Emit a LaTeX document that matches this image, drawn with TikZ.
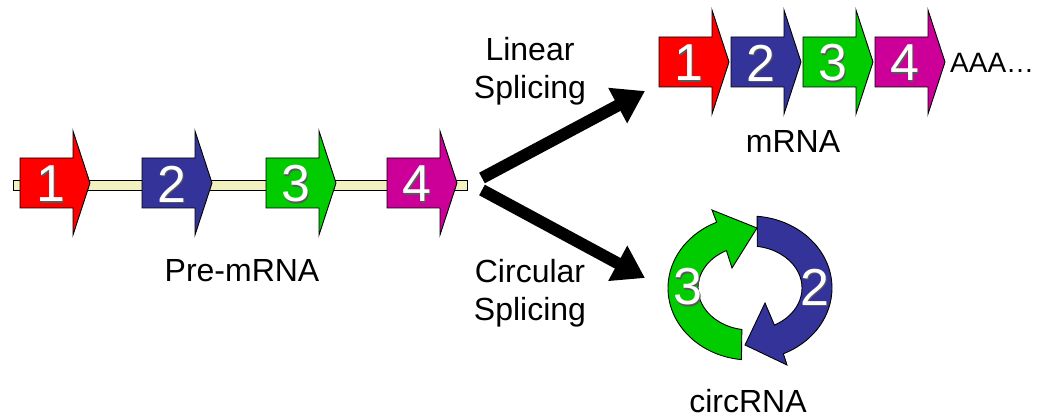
\documentclass[tikz,border=0pt]{standalone}
\usepackage{fontspec}
\setmainfont{Liberation Sans}
\usetikzlibrary{arrows.meta}
\definecolor{exred}{RGB}{255,0,0}
\definecolor{exblue}{RGB}{51,51,153}
\definecolor{exgreen}{RGB}{0,204,0}
\definecolor{exmag}{RGB}{204,0,153}
\definecolor{intron}{RGB}{242,242,192}
\newcommand\drawexon[3]{% #1 left x, #2 centre y, #3 colour
  \filldraw[fill=#3, exonline] (#1,#2-25) -- ++(53,0) -- ++(0,-27) -- ++(17,52) -- ++(-17,52) -- ++(0,-27) -- ++(-53,0) -- cycle;}
\newcommand\exnum[4]{% #1 name, #2 x, #3 y, #4 text
  \node[numshadow, xshift=1.3pt, yshift=-1.3pt] at (#2,#3) {#4};
  \node[num] (#1) at (#2,#3) {#4};}
\begin{document}
\begin{tikzpicture}[x=1pt,y=-1pt,
  exonline/.style={draw=black, line width=0.9pt},
  num/.style={text=white, font=\fontsize{52}{52}\selectfont, inner sep=0pt},
  numshadow/.style={text=black!65, font=\fontsize{52}{52}\selectfont, inner sep=0pt},
  lbl/.style={font=\fontsize{32}{38}\selectfont, inner sep=0pt, align=center},
  splice/.style={line width=12pt, -{Triangle[length=31pt,width=38pt]}}]
\useasboundingbox (0,0) rectangle (1043,419);

% pre-mRNA
\filldraw[fill=intron, draw=black, line width=0.9pt] (13,180) rectangle (467,190);
\drawexon{20}{183}{exred}
\drawexon{142}{183}{exblue}
\drawexon{266}{183}{exgreen}
\drawexon{387}{183}{exmag}
\exnum{p1}{51}{184}{1}
\exnum{p2}{172}{184}{2}
\exnum{p3}{296}{184}{3}
\exnum{p4}{417}{184}{4}
\node[lbl, anchor=base] (pre) at (242,282) {Pre-mRNA};

% mRNA
\drawexon{659}{62}{exred}
\drawexon{731}{62}{exblue}
\drawexon{803}{62}{exgreen}
\drawexon{875}{62}{exmag}
\exnum{m1}{689}{63}{1}
\exnum{m2}{761}{63}{2}
\exnum{m3}{833}{63}{3}
\exnum{m4}{905}{63}{4}
\node[font=\fontsize{28}{28}\selectfont, inner sep=0pt, anchor=base west] (aaa) at (950,73) {AAA…};
\node[lbl, anchor=base] (mrna) at (793,153) {mRNA};

% splicing arrows
\coordinate (splitU) at (482,178);
\coordinate (splitD) at (482,190);
\coordinate (linTip) at (645,91);
\coordinate (circTip) at (645,278);
\draw[splice] (splitU) -- (linTip);
\draw[splice] (splitD) -- (circTip);
\node[lbl] (lin) at (530,71) {Linear\\Splicing};
\node[lbl] (circ) at (530,293) {Circular\\Splicing};

% circRNA
\begin{scope}[shift={(750,288)}, yscale=-1]
\filldraw[fill=exgreen, exonline] (264:82 and 72) arc[start angle=264, end angle=114, x radius=82, y radius=72]
  -- (-38,78) -- (7,60) -- (-18,20) -- (117:52 and 42)
  arc[start angle=117, end angle=261, x radius=52, y radius=42] -- cycle;
\filldraw[fill=exblue, exonline] (85:82 and 72) arc[start angle=85, end angle=-66, x radius=82, y radius=72]
  -- (37,-77) -- (-5,-57) -- (15,-15) -- (-62:52 and 42)
  arc[start angle=-62, end angle=82, x radius=52, y radius=42] -- cycle;
\end{scope}
\exnum{c3}{688}{287}{3}
\exnum{c2}{815}{287}{2}
\node[lbl, anchor=base] (circrna) at (748,412) {circRNA};
\end{tikzpicture}
\end{document}
